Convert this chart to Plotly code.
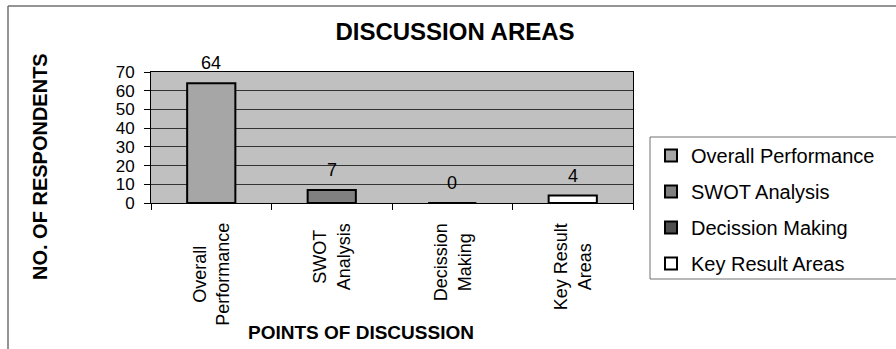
import plotly.graph_objects as go

categories = ["Overall Performance", "SWOT Analysis", "Decission Making", "Key Result Areas"]
tick_labels = ["Overall<br>Performance", "SWOT<br>Analysis", "Decission<br>Making", "Key Result<br>Areas"]
values = [64, 7, 0, 4]
colors = ["#a6a6a6", "#808080", "#4d4d4d", "#ffffff"]

FONT = "Arial, Liberation Sans, sans-serif"

W, H = 896, 349
L, R, T, B = 151, 633, 72, 203
pw, ph = R - L, B - T

def px(x):
    return (x - L) / pw

def py(y):
    return (B - y) / ph

fig = go.Figure()
for i, (cat, val, col) in enumerate(zip(categories, values, colors)):
    fig.add_trace(go.Bar(
        x=[cat], y=[val], name=cat, width=0.4,
        marker=dict(color=col, line=dict(color="#000000", width=2)),
        legendgroup=str(i),
    ))
    fig.add_annotation(x=cat, y=val, text=str(val), showarrow=False,
                       yanchor="bottom", yshift=8,
                       font=dict(family=FONT, size=18, color="#000"))

# category tick labels (centred multi-line, rotated)
for cat, lab in zip(categories, tick_labels):
    fig.add_annotation(x=cat, xref="x", y=py(221), yref="paper", text=lab,
                       showarrow=False, textangle=-90, align="center",
                       xanchor="center", yanchor="top",
                       font=dict(family=FONT, size=18, color="#000"))

fig.update_layout(
    width=W, height=H,
    margin=dict(l=L, r=W - R, t=T, b=H - B),
    paper_bgcolor="#ffffff",
    plot_bgcolor="#c0c0c0",
    barmode="overlay",
    showlegend=True,
    font=dict(family=FONT, color="#000"),
    title=dict(text="<b>DISCUSSION AREAS</b>", x=455 / W, xanchor="center",
               y=1 - 32 / H, yanchor="middle",
               font=dict(family=FONT, size=24, color="#000")),
    legend=dict(x=px(651), xanchor="left", y=py(136), yanchor="top",
                bgcolor="rgba(0,0,0,0)", borderwidth=0,
                font=dict(family=FONT, size=20, color="#000"),
                traceorder="grouped", tracegroupgap=7,
                itemwidth=30, maxheight=400),
)

fig.update_xaxes(
    type="category", categoryorder="array", categoryarray=categories,
    showticklabels=False,
    tickson="boundaries", ticks="outside", ticklen=6, tickcolor="#000",
    showgrid=False, showline=True, linecolor="#000", linewidth=1, mirror=True,
)
fig.update_yaxes(
    range=[0, 70], dtick=10, tick0=0,
    ticks="outside", ticklen=6, tickcolor="#000",
    showgrid=True, gridcolor="#333333", gridwidth=1,
    showline=True, linecolor="#000", linewidth=1, mirror=True,
    zeroline=False,
    tickfont=dict(family=FONT, size=17, color="#000"),
    ticklabelstandoff=6,
)

# axis titles
fig.add_annotation(text="<b>POINTS OF DISCUSSION</b>", xref="paper", yref="paper",
                   x=px(361), y=py(332), showarrow=False, xanchor="center", yanchor="middle",
                   font=dict(family=FONT, size=19, color="#000"))
fig.add_annotation(text="<b>NO. OF RESPONDENTS</b>", xref="paper", yref="paper",
                   x=px(40), y=py(167), showarrow=False, textangle=-90,
                   xanchor="center", yanchor="middle",
                   font=dict(family=FONT, size=20, color="#000"))

# chart frame (top & left edges) and legend box
fig.add_shape(type="line", xref="paper", yref="paper", x0=px(8), x1=px(900), y0=py(6), y1=py(6),
              line=dict(color="#707070", width=1.5))
fig.add_shape(type="line", xref="paper", yref="paper", x0=px(8), x1=px(8), y0=py(6), y1=py(352),
              line=dict(color="#707070", width=1.5))
fig.add_shape(type="rect", xref="paper", yref="paper", x0=px(650), x1=px(900), y0=py(279), y1=py(137),
              line=dict(color="#707070", width=1))

fig.write_html("out.html")
